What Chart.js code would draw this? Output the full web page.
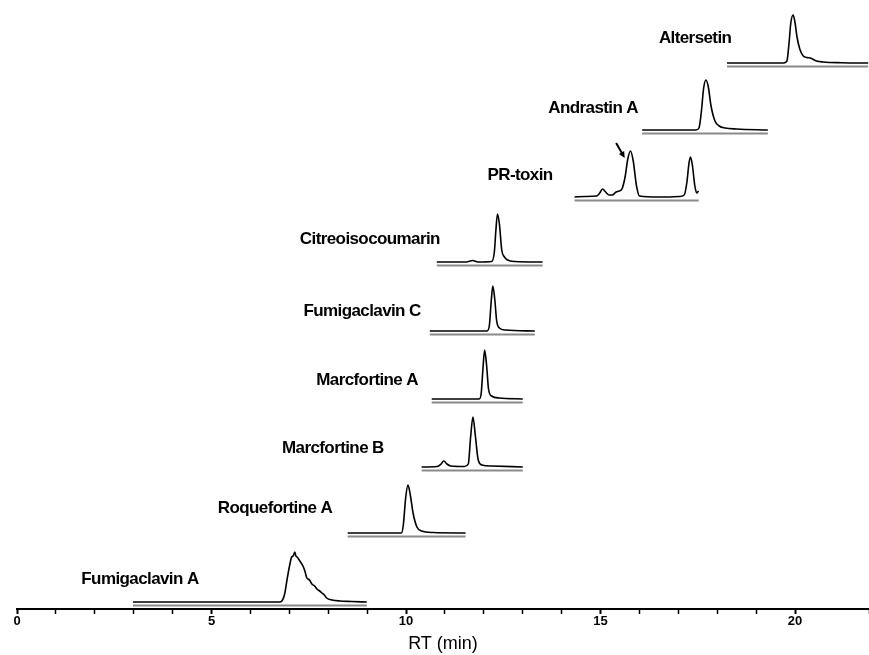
<!DOCTYPE html>
<html>
<head>
<meta charset="utf-8">
<script src="https://cdn.jsdelivr.net/npm/chart.js@4.4.0/dist/chart.umd.min.js"></script>
<style>
  html, body { margin: 0; padding: 0; background: #fff; }
  #chart { display: block; }
</style>
</head>
<body>
<canvas id="chart" width="869" height="655"></canvas>
<script>
// compound names, top to bottom
const compounds = ['Altersetin', 'Andrastin A', 'PR-toxin', 'Citreoisocoumarin', 'Fumigaclavin C',
  'Marcfortine A', 'Marcfortine B', 'Roquefortine A', 'Fumigaclavin A'];

// vertical offset of each trace (stacked display)
const offsets = [546, 479, 412, 347, 278, 210, 142, 76, 7];
// where each name is written (RT, level)
const labelRT = [17.43, 14.81, 12.93, 9.07, 8.87, 9.0, 8.12, 6.63, 3.16];
const labelLevel = [571, 501, 434, 370, 298, 229, 161, 101, 30];

// retention times (min) and signal above baseline for each trace
const altersetinRT  = [18.25, 19.70, 19.79, 19.84, 19.89, 19.95, 20.00, 20.05, 20.12, 20.21, 20.30, 20.39, 20.55, 20.72, 21.20, 21.88];
const altersetinSig = [0, 0, 2, 18, 40, 48, 40, 26, 14, 7, 5.5, 5, 2, 1, 0.3, 0];

const andrastinRT  = [16.07, 17.45, 17.53, 17.59, 17.65, 17.71, 17.77, 17.84, 17.94, 18.05, 18.20, 18.50, 19.30];
const andrastinSig = [0, 0, 2, 18, 42, 50, 43, 24, 9, 4, 2, 1, 0];

const prToxinRT  = [14.33, 14.60, 14.90, 14.98, 15.05, 15.13, 15.22, 15.30, 15.40, 15.48, 15.55, 15.63, 15.70, 15.77, 15.84, 15.92, 16.00, 16.50, 17.03, 17.15, 17.22, 17.27, 17.31, 17.36, 17.42, 17.47, 17.52];
const prToxinSig = [0, 0.5, 1, 4, 8, 5, 2, 2, 5, 6, 8, 20, 38, 46, 36, 12, 1, 0, 0.5, 2, 15, 33, 40, 32, 12, 4, 6];

const citreoRT  = [10.79, 11.55, 11.71, 11.85, 12.20, 12.27, 12.31, 12.35, 12.40, 12.46, 12.53, 12.61, 12.80, 13.51];
const citreoSig = [0, 0, 1.5, 0, 0.5, 10, 32, 48, 38, 12, 5, 2, 0.5, 0];

const fumigaCRT  = [10.61, 12.08, 12.14, 12.19, 12.23, 12.28, 12.33, 12.40, 12.55, 13.31];
const fumigaCSig = [0, 0, 5, 30, 45, 32, 10, 3, 1, 0];

const marcART  = [10.66, 11.88, 11.93, 11.98, 12.02, 12.07, 12.12, 12.20, 12.40, 13.00];
const marcASig = [0, 0, 5, 32, 49, 34, 10, 3, 1, 0];

const marcBRT  = [10.40, 10.80, 10.90, 10.97, 11.05, 11.15, 11.50, 11.60, 11.66, 11.72, 11.78, 11.85, 11.95, 12.20, 13.00];
const marcBSig = [0, 0.5, 3, 6, 3, 1, 0.5, 3, 30, 50, 32, 8, 2, 1, 0];

const roqueRT  = [8.50, 9.88, 9.93, 9.99, 10.05, 10.11, 10.18, 10.28, 10.40, 10.70, 11.53];
const roqueSig = [0, 0, 8, 35, 48, 38, 20, 6, 2, 0.5, 0];

const fumigaART  = [2.98, 6.75, 6.81, 6.88, 6.94, 7.00, 7.06, 7.10, 7.14, 7.17, 7.20, 7.27, 7.35, 7.40, 7.45, 7.52, 7.58, 7.65, 7.71, 7.78, 7.84, 7.90, 7.96, 8.10, 8.30, 8.60, 8.99];
const fumigaASig = [0, 0, 1, 8, 22, 35, 45, 46, 50, 46, 45, 41, 36, 31, 24, 22, 18, 16, 13, 11, 9, 7, 4, 2, 1, 0.5, 0];

const traceRT  = [altersetinRT, andrastinRT, prToxinRT, citreoRT, fumigaCRT, marcART, marcBRT, roqueRT, fumigaART];
const traceSig = [altersetinSig, andrastinSig, prToxinSig, citreoSig, fumigaCSig, marcASig, marcBSig, roqueSig, fumigaASig];

// reference baseline drawn just under each trace
const baselineGap = 3.5;

// arrow pointing at the PR-toxin peak: [RT, level]
const arrowFrom = [15.40, 466];
const arrowTo   = [15.62, 451];

const datasets = [];
traceRT.forEach((rts, i) => {
  datasets.push({
    label: compounds[i],
    data: rts.map((t, j) => ({ x: t, y: offsets[i] + traceSig[i][j] })),
    borderColor: '#000',
    borderWidth: 1.6,
    cubicInterpolationMode: 'monotone',
    pointRadius: 0,
    fill: false
  });
  datasets.push({
    label: compounds[i] + ' baseline',
    data: [{ x: rts[0], y: offsets[i] - baselineGap }, { x: rts[rts.length - 1], y: offsets[i] - baselineGap }],
    borderColor: '#8a8a8a',
    borderWidth: 1.8,
    pointRadius: 0,
    fill: false
  });
});

const nameLabels = {
  id: 'nameLabels',
  afterDatasetsDraw(chart) {
    const { ctx, scales: { x, y } } = chart;
    ctx.save();
    ctx.fillStyle = '#000';
    ctx.font = 'bold 17px "Liberation Sans", Arial, sans-serif';
    ctx.letterSpacing = '-0.6px';
    ctx.textAlign = 'center';
    ctx.textBaseline = 'middle';
    compounds.forEach((name, i) => {
      ctx.fillText(name, x.getPixelForValue(labelRT[i]), y.getPixelForValue(labelLevel[i]));
    });

    // arrow
    const x0 = x.getPixelForValue(arrowFrom[0]), y0 = y.getPixelForValue(arrowFrom[1]);
    const x1 = x.getPixelForValue(arrowTo[0]), y1 = y.getPixelForValue(arrowTo[1]);
    const ang = Math.atan2(y1 - y0, x1 - x0);
    ctx.strokeStyle = '#000';
    ctx.lineWidth = 2;
    ctx.beginPath();
    ctx.moveTo(x0, y0);
    ctx.lineTo(x1 - 4 * Math.cos(ang), y1 - 4 * Math.sin(ang));
    ctx.stroke();
    ctx.beginPath();
    ctx.moveTo(x1, y1);
    ctx.lineTo(x1 - 7 * Math.cos(ang - 0.45), y1 - 7 * Math.sin(ang - 0.45));
    ctx.lineTo(x1 - 7 * Math.cos(ang + 0.45), y1 - 7 * Math.sin(ang + 0.45));
    ctx.closePath();
    ctx.fill();
    ctx.restore();
  }
};

new Chart(document.getElementById('chart'), {
  type: 'line',
  data: { datasets },
  options: {
    responsive: false,
    animation: false,
    layout: { padding: { left: 17, right: 0, top: 0, bottom: 0 } },
    plugins: { legend: { display: false }, tooltip: { enabled: false } },
    scales: {
      x: {
        type: 'linear',
        min: 0,
        max: 21.9,
        afterFit: (scale) => { scale.height = 46; },
        border: { display: true, color: '#000', width: 2 },
        grid: {
          drawOnChartArea: false,
          tickLength: 5,
          tickColor: '#000',
          tickWidth: (c) => (c.tick && c.tick.value % 5 === 0 ? 2 : 1.5)
        },
        ticks: {
          stepSize: 1,
          autoSkip: false,
          maxRotation: 0,
          padding: 0,
          color: '#000',
          font: { family: '"Liberation Sans Narrow", "Liberation Sans", Arial', size: 13, weight: 'bold' },
          callback: (v) => (v % 5 === 0 ? v : '')
        },
        title: {
          display: true,
          text: 'RT (min)',
          color: '#000',
          padding: { top: 0, bottom: 0 },
          font: { family: '"Liberation Sans", Arial', size: 18 }
        }
      },
      y: {
        display: false,
        min: 0,
        max: 609
      }
    }
  },
  plugins: [nameLabels]
});
</script>
</body>
</html>
